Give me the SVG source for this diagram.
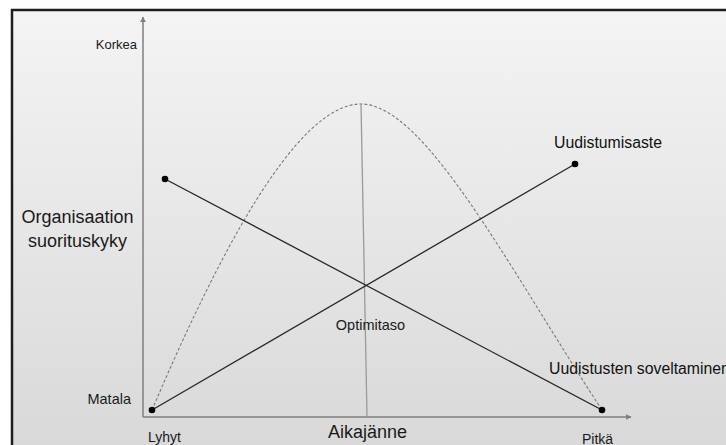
<svg xmlns="http://www.w3.org/2000/svg" width="726" height="445" viewBox="0 0 726 445">
  <style>
    .cal { font-family: "Liberation Sans", Arial, sans-serif; fill: #1a1a1a; }
    .ari { font-family: "Liberation Sans", Arial, sans-serif; fill: #111; }
    .axis { stroke: #7f7f7f; stroke-width: 1.5; fill: none; }
    .solid { stroke: #262626; stroke-width: 1.3; fill: none; }
    .dashed { stroke: #7a7a7a; stroke-width: 1.1; stroke-dasharray: 3 2; fill: none; }
    .opt { stroke: #9a9a9a; stroke-width: 1.3; fill: none; }
    .dot { fill: #000; }
  </style>
  <defs>
    <linearGradient id="bg" x1="0" y1="0" x2="0" y2="1">
      <stop offset="0" stop-color="#f4f4f4"/>
      <stop offset="1" stop-color="#d8d8d8"/>
    </linearGradient>
    <marker id="arr" viewBox="0 0 10 10" refX="9" refY="5" markerWidth="6" markerHeight="6" markerUnits="userSpaceOnUse" orient="auto">
      <path d="M0,0 L10,5 L0,10 z" fill="#7f7f7f"/>
    </marker>
  </defs>
  <rect x="0" y="0" width="726" height="445" fill="#ffffff"/>
  <rect x="12" y="10" width="730" height="450" fill="url(#bg)" stroke="#1e1e1e" stroke-width="2.5"/>

  <g id="axes">
    <line class="axis" x1="143" y1="417" x2="143" y2="17" marker-end="url(#arr)"/>
    <line class="axis" x1="143" y1="417" x2="631" y2="417" marker-end="url(#arr)"/>
  </g>

  <g id="connectors">
    <path class="dashed" d="M152,410 C215,262 295,104 361,104 C425,104 510,270 602,410"/>
    <line class="opt" x1="361" y1="104" x2="367" y2="416"/>
    <line class="solid" x1="165" y1="179" x2="602" y2="410"/>
    <line class="solid" x1="152" y1="410" x2="575" y2="164"/>
  </g>

  <g id="node-y-axis-label">
    <text class="cal" x="77.5" y="223" font-size="18" text-anchor="middle">Organisaation</text>
    <text class="cal" x="77.5" y="247" font-size="18" text-anchor="middle">suorituskyky</text>
  </g>
  <g id="node-korkea">
    <text class="cal" x="137" y="49" font-size="13" text-anchor="end">Korkea</text>
  </g>
  <g id="node-matala">
    <text class="cal" x="131" y="404" font-size="14.5" text-anchor="end">Matala</text>
  </g>
  <g id="node-lyhyt">
    <text class="cal" x="148" y="442" font-size="14">Lyhyt</text>
  </g>
  <g id="node-aikajanne">
    <text class="cal" x="367.5" y="438" font-size="18" text-anchor="middle">Aikajänne</text>
  </g>
  <g id="node-pitka">
    <text class="cal" x="582" y="444" font-size="14">Pitkä</text>
  </g>
  <g id="node-optimitaso">
    <text class="cal" x="370.5" y="330" font-size="14.5" text-anchor="middle">Optimitaso</text>
  </g>
  <g id="node-uudistumisaste">
    <circle class="dot" cx="575" cy="164" r="3.3"/>
    <text class="ari" x="554" y="148" font-size="15.8">Uudistumisaste</text>
  </g>
  <g id="node-soveltaminen">
    <circle class="dot" cx="602" cy="410" r="3.3"/>
    <text class="ari" x="549" y="374" font-size="15.8">Uudistusten soveltaminen</text>
  </g>
  <g id="node-start-low">
    <circle class="dot" cx="152" cy="410" r="3.3"/>
  </g>
  <g id="node-start-high">
    <circle class="dot" cx="165" cy="179" r="3.3"/>
  </g>
</svg>
